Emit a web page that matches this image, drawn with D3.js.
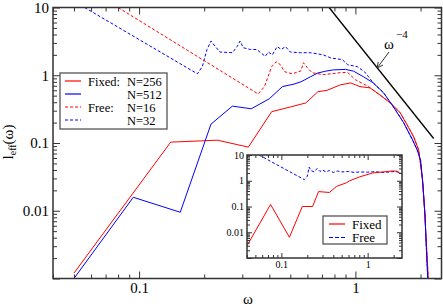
<!DOCTYPE html>
<html>
<head>
<meta charset="utf-8">
<script src="https://cdn.jsdelivr.net/npm/d3@7"></script>
<style>
  body { margin: 0; background: #fff; }
  svg { display: block; }
  svg text { font-family: "Liberation Serif", "DejaVu Serif", serif; }
</style>
</head>
<body>
<div id="chart"></div>
<script>
// main panel: l_eff(omega) for fixed and free chains
const fixedW256 = [0.05, 0.14, 0.23, 0.32, 0.41, 0.5, 0.59, 0.67, 0.74, 0.85, 0.95, 1.05, 1.17, 1.3, 1.45, 1.61, 1.76, 1.86, 1.96, 2.04, 2.09, 2.12, 2.15, 2.17];
const fixedL256 = [0.0012, 0.103, 0.11, 0.087, 0.29, 0.34, 0.39, 0.57, 0.6, 0.72, 0.77, 0.68, 0.65, 0.51, 0.39, 0.28, 0.17, 0.123, 0.079, 0.03, 0.01, 0.004, 0.0018, 0.001];

const fixedW512 = [0.05, 0.094, 0.155, 0.215, 0.27, 0.33, 0.4, 0.46, 0.52, 0.56, 0.62, 0.67, 0.73, 0.79, 0.9, 0.98, 1.09, 1.21, 1.35, 1.5, 1.67, 1.84, 1.93, 2.0, 2.05, 2.1, 2.13, 2.16];
const fixedL512 = [0.001, 0.0158, 0.0095, 0.19, 0.35, 0.32, 0.45, 0.68, 0.74, 0.8, 0.95, 1.08, 1.15, 1.2, 1.22, 1.15, 0.95, 0.77, 0.55, 0.34, 0.2, 0.11, 0.079, 0.056, 0.025, 0.008, 0.0026, 0.001];

const freeW16 = [0.08, 0.355, 0.38, 0.41, 0.43, 0.45, 0.47, 0.51, 0.56, 0.575, 0.6, 0.63, 0.71, 0.85, 0.92, 1.0, 1.13, 1.17, 1.3, 1.45, 1.61, 1.76, 1.86, 1.96, 2.04, 2.09, 2.12, 2.15, 2.17];
const freeL16 = [10, 0.53, 0.68, 1.34, 1.58, 1.43, 1.13, 1.05, 1.16, 1.53, 1.29, 1.09, 1.02, 1.09, 1.1, 0.86, 0.7, 0.65, 0.51, 0.39, 0.28, 0.17, 0.123, 0.079, 0.03, 0.01, 0.004, 0.0018, 0.001];

const freeW32 = [0.056, 0.186, 0.196, 0.206, 0.215, 0.225, 0.237, 0.27, 0.284, 0.293, 0.303, 0.327, 0.35, 0.383, 0.396, 0.413, 0.435, 0.454, 0.475, 0.5, 0.556, 0.62, 0.71, 0.77, 0.87, 0.92, 1.02, 1.1, 1.15, 1.21, 1.35, 1.5, 1.67, 1.84, 1.93, 2.0, 2.05, 2.1, 2.13, 2.16];
const freeL32 = [10, 1.05, 1.34, 2.4, 3.2, 2.65, 2.2, 2.15, 2.65, 3.2, 2.55, 2.4, 2.4, 1.9, 2.2, 2.0, 2.65, 2.4, 2.65, 2.2, 2.15, 2.15, 2.0, 1.8, 1.7, 1.43, 1.34, 1.13, 0.95, 0.77, 0.55, 0.34, 0.2, 0.11, 0.079, 0.056, 0.025, 0.008, 0.0026, 0.001];

// omega^-4 guide line
const powerW = [0.7556, 2.3];
const powerC = 3.26;

// inset
const insetFixedW = [0.04, 0.075, 0.124, 0.175, 0.23, 0.27, 0.36, 0.435, 0.57, 0.62, 0.81, 1.14, 1.5, 1.95, 2.2, 2.35, 2.5];
const insetFixedL = [0.003, 0.12, 0.0064, 0.1, 0.1, 0.38, 0.35, 0.6, 0.84, 1.0, 1.42, 2.0, 2.2, 2.4, 2.35, 2.0, 1.85];
const insetFreeW = [0.055, 0.185, 0.2, 0.21, 0.22, 0.24, 0.26, 0.28, 0.3, 0.33, 0.36, 0.4, 0.45, 0.5, 0.6, 0.7, 0.8, 1.0, 1.2, 1.5, 1.8, 2.1, 2.3, 2.5];
const insetFreeL = [10, 1.1, 1.5, 3.4, 2.5, 2.2, 3.0, 2.3, 2.6, 2.2, 2.5, 2.1, 2.4, 2.2, 2.3, 2.1, 2.2, 2.15, 2.25, 2.1, 2.2, 2.3, 2.1, 1.85];

const mainLabelsX = [0.1, 1], mainLabelsY = [10, 1, 0.1, 0.01];
const insetLabelsX = [0.1, 1], insetLabelsY = [10, 1, 0.1, 0.01];

const SERIF = "Liberation Serif";
const width = 443, height = 307;
const svg = d3.select("#chart").append("svg").attr("width", width).attr("height", height)
  .attr("font-family", SERIF);

const x = d3.scaleLog().domain([0.04, 2.5]).range([53, 441.5]);
const y = d3.scaleLog().domain([0.001, 10]).range([278.5, 7.5]);
const xi = d3.scaleLog().domain([0.04, 2.5]).range([247, 402]);
const yi = d3.scaleLog().domain([0.001, 10]).range([258, 155]);

const isDecade = v => Math.abs(Math.log10(v) - Math.round(Math.log10(v))) < 1e-9;
const fmt = list => v => list.some(l => Math.abs(l - v) / l < 1e-9) ? d3.format("~g")(v) : "";

function axes(g, xs, ys, o) {
  const [x0, x1] = xs.range(), [y0, y1] = ys.range();
  const xt = xs.ticks(), yt = ys.ticks();
  const parts = [
    [d3.axisBottom, xs, `translate(0,${y0})`, xt, o.lx],
    [d3.axisTop, xs, `translate(0,${y1})`, xt, []],
    [d3.axisLeft, ys, `translate(${x0},0)`, yt, o.ly],
    [d3.axisRight, ys, `translate(${x1},0)`, yt, []]
  ];
  parts.forEach(([ax, s, tr, ticks, labels]) => {
    const maj = ticks.filter(isDecade), min = ticks.filter(v => !isDecade(v));
    g.append("g").attr("transform", tr)
      .call(ax(s).tickValues(min).tickSize(-o.minor).tickFormat(""))
      .call(a => a.select(".domain").remove());
    g.append("g").attr("transform", tr)
      .call(ax(s).tickValues(maj).tickSize(-o.major).tickPadding(o.pad).tickFormat(fmt(labels)))
      .attr("font-family", SERIF)
      .call(a => a.select(".domain").remove())
      .call(a => a.selectAll("text").attr("font-size", o.fs).attr("fill", "#000"));
  });
  g.selectAll(".tick line").attr("stroke", "#333").attr("stroke-width", 1);
  g.append("rect").attr("x", x0).attr("y", y1).attr("width", x1 - x0).attr("height", y0 - y1)
    .attr("fill", "none").attr("stroke", "#333").attr("stroke-width", 1.5);
}

function curves(g, xs, ys, list, clipId) {
  const [x0, x1] = xs.range(), [y0, y1] = ys.range();
  svg.append("clipPath").attr("id", clipId).append("rect")
    .attr("x", x0).attr("y", y1).attr("width", x1 - x0).attr("height", y0 - y1);
  const line = d3.line().x(d => xs(d[0])).y(d => ys(d[1]));
  const cg = g.append("g").attr("clip-path", `url(#${clipId})`);
  list.forEach(c => {
    cg.append("path").attr("d", line(d3.zip(c.w, c.l))).attr("fill", "none")
      .attr("stroke", c.color).attr("stroke-width", c.sw || 1)
      .attr("stroke-dasharray", c.dash || null);
  });
}

// main plot
const gMain = svg.append("g");
curves(gMain, x, y, [
  {w: freeW32, l: freeL32, color: "#0000ff", dash: "3,2"},
  {w: freeW16, l: freeL16, color: "#ff0000", dash: "3,2"},
  {w: fixedW256, l: fixedL256, color: "#ff0000"},
  {w: fixedW512, l: fixedL512, color: "#0000ff"},
  {w: powerW, l: powerW.map(w => powerC * Math.pow(w, -4)), color: "#000", sw: 1.3}
], "clipMain");
axes(gMain, x, y, {major: 7, minor: 4, pad: 4, fs: 15, lx: mainLabelsX, ly: mainLabelsY});

// omega^-4 annotation
svg.append("defs").append("marker").attr("id", "arr").attr("viewBox", "0 0 10 10")
  .attr("refX", 9).attr("refY", 5).attr("markerWidth", 6).attr("markerHeight", 6).attr("orient", "auto")
  .append("path").attr("d", "M0,0 L10,5 L0,10").attr("fill", "none").attr("stroke", "#333").attr("stroke-width", 1.5);
svg.append("line").attr("x1", 389).attr("y1", 52).attr("x2", 377.5).attr("y2", 67.5)
  .attr("stroke", "#333").attr("stroke-width", 1).attr("marker-end", "url(#arr)");
svg.append("text").attr("x", 384).attr("y", 49).attr("font-size", 15).text("ω");
svg.append("text").attr("x", 396).attr("y", 38).attr("font-size", 11).text("−4");

// main legend
const legMain = svg.append("g");
legMain.append("rect").attr("x", 60).attr("y", 73).attr("width", 107).attr("height", 56)
  .attr("fill", "#fff").attr("stroke", "#555").attr("stroke-width", 1.3);
const legRows = [
  {c: "#ff0000", d: null, a: "Fixed:", b: "N=256"},
  {c: "#0000ff", d: null, a: "", b: "N=512"},
  {c: "#ff0000", d: "3,2", a: "Free:", b: "N=16"},
  {c: "#0000ff", d: "3,2", a: "", b: "N=32"}
];
legRows.forEach((r, i) => {
  const yy = 81 + i * 13;
  legMain.append("line").attr("x1", 65).attr("x2", 81).attr("y1", yy).attr("y2", yy)
    .attr("stroke", r.c).attr("stroke-width", 1.2).attr("stroke-dasharray", r.d);
  if (r.a) legMain.append("text").attr("x", 88).attr("y", yy + 4.5).attr("font-size", 12.5).text(r.a);
  legMain.append("text").attr("x", 127).attr("y", yy + 4.5).attr("font-size", 12.5).text(r.b);
});

// axis titles
svg.append("text").attr("x", 248).attr("y", 304).attr("text-anchor", "middle").attr("font-size", 15).text("ω");
const yl = svg.append("text").attr("transform", "translate(13,142) rotate(-90)")
  .attr("text-anchor", "middle").attr("font-size", 15);
yl.append("tspan").text("l");
yl.append("tspan").attr("font-size", 10).attr("dy", 3).text("eff");
yl.append("tspan").attr("dy", -3).text("(ω)");

// inset
const gIn = svg.append("g");
gIn.append("rect").attr("x", 247).attr("y", 155).attr("width", 155).attr("height", 103).attr("fill", "#fff");
curves(gIn, xi, yi, [
  {w: insetFreeW, l: insetFreeL, color: "#0000ff", dash: "3,2"},
  {w: insetFixedW, l: insetFixedL, color: "#ff0000"}
], "clipInset");
axes(gIn, xi, yi, {major: 5, minor: 3, pad: 3, fs: 10, lx: insetLabelsX, ly: insetLabelsY});

const legIn = svg.append("g");
legIn.append("rect").attr("x", 323).attr("y", 216).attr("width", 64).attr("height", 28)
  .attr("fill", "#fff").attr("stroke", "#555").attr("stroke-width", 1.3);
[{c: "#ff0000", d: null, t: "Fixed"}, {c: "#0000ff", d: "4,2", t: "Free"}].forEach((r, i) => {
  const yy = 224 + i * 13.5;
  legIn.append("line").attr("x1", 329).attr("x2", 345).attr("y1", yy).attr("y2", yy)
    .attr("stroke", r.c).attr("stroke-width", 1.2).attr("stroke-dasharray", r.d);
  legIn.append("text").attr("x", 352).attr("y", yy + 4.5).attr("font-size", 13).text(r.t);
});
</script>
</body>
</html>
